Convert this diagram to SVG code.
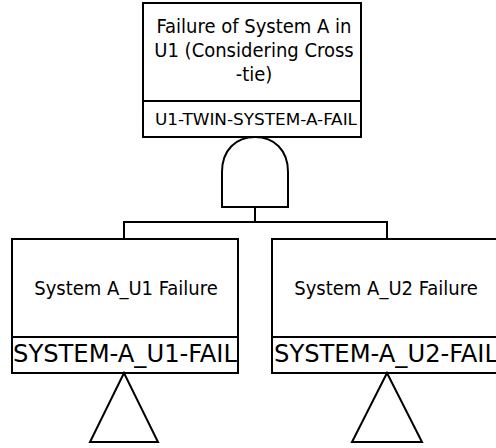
<svg xmlns="http://www.w3.org/2000/svg" width="496" height="448" viewBox="0 0 496 448">
<style>
.box{fill:#fff;stroke:#000;stroke-width:2}
.ln{fill:none;stroke:#000;stroke-width:2}
.t{font-family:"DejaVu Sans Condensed","DejaVu Sans",sans-serif;font-stretch:condensed;font-size:20px;fill:#000;text-anchor:middle}
.id{font-family:"DejaVu Sans Condensed","DejaVu Sans",sans-serif;font-stretch:condensed;font-size:24px;fill:#000;text-anchor:middle}
</style>
<rect width="496" height="448" fill="#fff"/>
<g id="connectors">
<path class="ln" d="M255,207 V222 M124,239 V222 H387 V239"/>
</g>
<g id="top">
<rect class="box" x="143" y="3" width="218" height="134"/>
<line class="ln" x1="143" y1="101" x2="361" y2="101"/>
<text class="t" x="254" y="33">Failure of System A in</text>
<text class="t" x="254" y="57">U1 (Considering Cross</text>
<text class="t" x="254" y="81">-tie)</text>
<text class="t" x="256" y="125" style="font-size:16px" textLength="202" lengthAdjust="spacingAndGlyphs">U1-TWIN-SYSTEM-A-FAIL</text>
<path class="ln" d="M222,207 V172 C222,150 236,137 255,137 C274,137 288,150 288,172 V207 Z"/>
</g>
<g id="u1">
<rect class="box" x="12" y="239" width="226" height="134"/>
<line class="ln" x1="12" y1="337" x2="238" y2="337"/>
<text class="t" x="126" y="295">System A_U1 Failure</text>
<text class="id" x="125" y="362" textLength="224" lengthAdjust="spacingAndGlyphs">SYSTEM-A_U1-FAIL</text>
<path class="ln" d="M124,373 L90,442 H158 Z"/>
</g>
<g id="u2">
<rect class="box" x="272" y="239" width="228" height="134"/>
<line class="ln" x1="272" y1="337" x2="500" y2="337"/>
<text class="t" x="386" y="295">System A_U2 Failure</text>
<text class="id" x="386" y="362" textLength="224" lengthAdjust="spacingAndGlyphs">SYSTEM-A_U2-FAIL</text>
<path class="ln" d="M387,373 L352,442 H422 Z"/>
</g>
</svg>
